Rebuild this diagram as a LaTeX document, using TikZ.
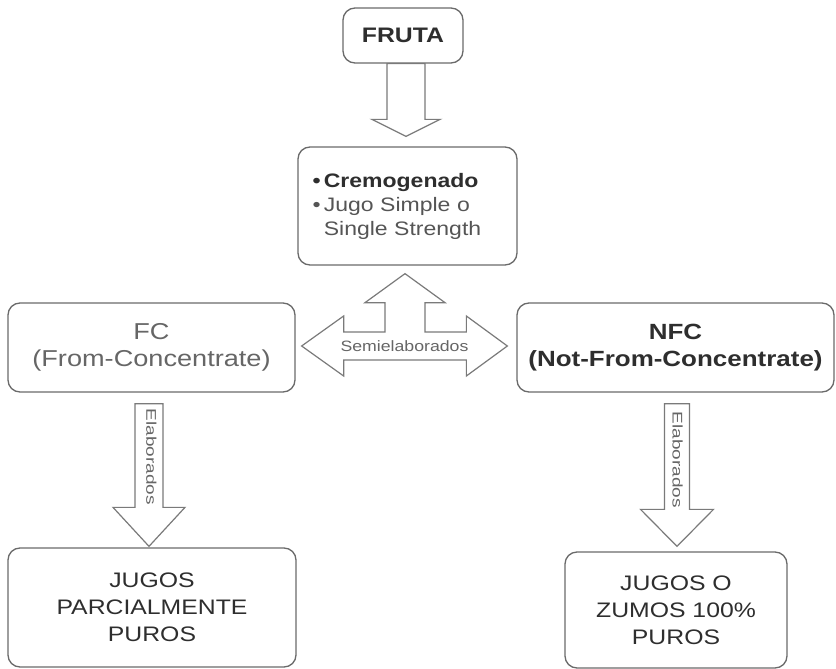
\documentclass[tikz,border=0pt]{standalone}
\usepackage{fontspec}
\setmainfont{Liberation Sans}[FakeStretch=1.18]
\usetikzlibrary{calc}
\definecolor{boxgray}{HTML}{6A6A6A}
\definecolor{arrowgray}{HTML}{7A7A7A}
\definecolor{txtdark}{HTML}{2E2E2E}
\definecolor{txtmid}{HTML}{555555}
\definecolor{txtlight}{HTML}{666666}
\newcommand\vblockarrow[5]{%
  \draw[blockarrow] let \p1=(#1), \p2=(#2) in
    (\x2-#3,\y1) -- (\x2+#3,\y1) -- (\x2+#3,\y2+#5) -- (\x2+#4,\y2+#5) --
    (\x2,\y2) -- (\x2-#4,\y2+#5) -- (\x2-#3,\y2+#5) -- cycle;}
\begin{document}
\begin{tikzpicture}[x=1pt,y=-1pt,
  box/.style={draw=boxgray, line width=1.3pt, rounded corners=12pt, inner sep=0pt, align=center, text=txtdark},
  blockarrow/.style={draw=arrowgray, line width=1.2pt, fill=white, line join=miter},
  smalllabel/.style={text=txtlight, font=\fontsize{14}{16}\selectfont, inner sep=0pt}]
\useasboundingbox[fill=white] (0,0) rectangle (836,669);

\node[box, minimum width=120pt, minimum height=55pt, font=\fontsize{21}{25}\selectfont\bfseries] (fruta) at (403,35.5) {FRUTA};
\node[box, minimum width=219pt, minimum height=118pt, text width=190pt, align=left, text=txtmid, font=\fontsize{19.5}{24}\selectfont] (cremo) at (407.5,206)
  {{\color{txtdark}\bfseries •\,Cremogenado}\\ •\,Jugo Simple o\\ \hphantom{•\,}Single Strength};
\node[box, minimum width=287pt, minimum height=89pt, text=txtlight, font=\fontsize{23}{27}\selectfont] (fc) at (151.5,347.5) {FC\\(From-Concentrate)};
\node[box, minimum width=317pt, minimum height=89pt, font=\fontsize{22}{27}\selectfont\bfseries] (nfc) at (675.5,347.5) {NFC\\(Not-From-Concentrate)};
\node[box, minimum width=288pt, minimum height=119pt, font=\fontsize{21}{27}\selectfont] (jp) at (152,607.5) {JUGOS\\PARCIALMENTE\\PUROS};
\node[box, minimum width=222pt, minimum height=116pt, font=\fontsize{21}{27}\selectfont] (jz) at (676,610) {JUGOS O\\ZUMOS 100\%\\PUROS};

% FRUTA -> Cremogenado
\coordinate (a1tip) at ($(cremo.north)+(-1.5,-10)$);
\vblockarrow{fruta.south}{a1tip}{19pt}{34pt}{17pt}

% FC -> Jugos parcialmente puros
\coordinate (a2top) at ($(fc.south)+(0,11)$);
\coordinate (a2tip) at ($(jp.north)+(-3,-1)$);
\vblockarrow{a2top}{a2tip}{14pt}{36pt}{39pt}

% NFC -> Jugos o zumos
\coordinate (a3top) at ($(nfc.south)+(0,11)$);
\coordinate (a3tip) at ($(jz.north)+(1,-5)$);
\vblockarrow{a3top}{a3tip}{12.5pt}{36.5pt}{37pt}

% Semielaborados T-arrow
\coordinate (ttop) at ($(cremo.south)+(-2.5,8)$);
\coordinate (tleft) at ($(fc.east)+(6,-1.5)$);
\coordinate (tright) at ($(nfc.west)+(-9,-1.5)$);
\draw[blockarrow] let \p1=(ttop), \p2=(tleft), \p3=(tright) in
  (\x1,\y1) -- (\x1+40pt,\y1-29pt) -- (\x1+20pt,\y1-29pt) -- (\x1+20pt,\y2+14pt) --
  (\x3-41pt,\y2+14pt) -- (\x3-41pt,\y2+30pt) -- (\x3,\y2) -- (\x3-41pt,\y2-30pt) --
  (\x3-41pt,\y2-14pt) -- (\x2+42pt,\y2-14pt) -- (\x2+42pt,\y2-30pt) -- (\x2,\y2) --
  (\x2+42pt,\y2+30pt) -- (\x2+42pt,\y2+14pt) -- (\x1-20pt,\y2+14pt) --
  (\x1-20pt,\y1-29pt) -- (\x1-40pt,\y1-29pt) -- cycle;
\node[smalllabel, font=\fontsize{15}{17}\selectfont] (semi) at ($(tleft)!0.5!(tright)$) {Semielaborados};

\node[smalllabel, rotate=-90] (el1) at ($(a2top)+(0,53)$) {\scalebox{1.15}[1]{Elaborados}};
\node[smalllabel, rotate=-90] (el2) at ($(a3top)+(2,56)$) {\scalebox{1.15}[1]{Elaborados}};
\end{tikzpicture}
\end{document}
